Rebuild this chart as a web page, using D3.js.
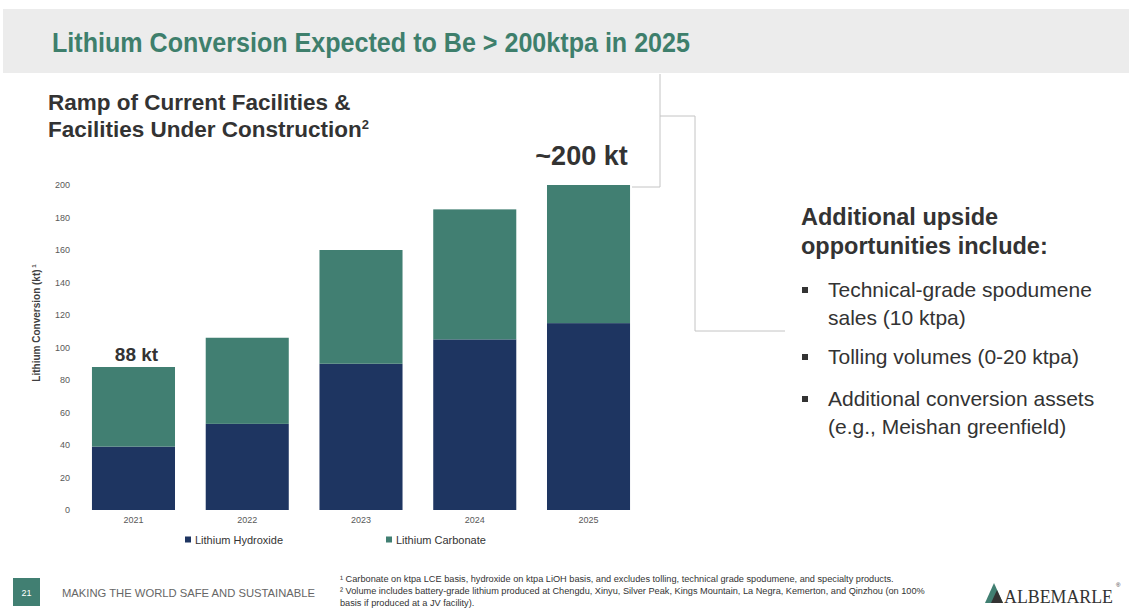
<!DOCTYPE html>
<html>
<head>
<meta charset="utf-8">
<script src="https://cdn.jsdelivr.net/npm/d3@7"></script>
<style>
  body { margin: 0; background: #fff; }
  svg { display: block; font-family: "Liberation Sans", Arial, sans-serif; }
  .tick text { fill: #595959; font-size: 9px; }
  .domain, .tick line { display: none; }
</style>
</head>
<body>
<div id="chart"></div>
<script>
// chart data
const years = ['2021', '2022', '2023', '2024', '2025'];
const hydroxide = [39, 53, 90, 105, 115];
const carbonate = [49, 53, 70, 80, 85];
const yTicks = [0, 20, 40, 60, 80, 100, 120, 140, 160, 180, 200];
const seriesNames = ['Lithium Hydroxide', 'Lithium Carbonate'];
const seriesColors = ['#1e3561', '#417f72'];
const bullets = [
    ['Technical-grade spodumene', 'sales (10 ktpa)'],
    ['Tolling volumes (0-20 ktpa)'],
    ['Additional conversion assets', '(e.g., Meishan greenfield)']
];

const W = 1129, H = 608;
const svg = d3.select('#chart').append('svg')
    .attr('width', W)
    .attr('height', H);

// header band
svg.append('rect')
    .attr('x', 3).attr('y', 9)
    .attr('width', W - 3).attr('height', 64)
    .attr('fill', '#ececec');

svg.append('text')
    .attr('x', 52).attr('y', 52)
    .attr('fill', '#3e7f6c')
    .attr('font-family', '"Liberation Sans Narrow", "Liberation Sans", Arial, sans-serif')
    .attr('font-weight', 'bold')
    .attr('font-size', 27)
    .attr('textLength', 638)
    .attr('lengthAdjust', 'spacingAndGlyphs')
    .text('Lithium Conversion Expected to Be > 200ktpa in 2025');

// subtitle
const sub = svg.append('text')
    .attr('fill', '#333')
    .attr('font-weight', 'bold')
    .attr('font-size', 22.5);
sub.append('tspan').attr('x', 48).attr('y', 110).text('Ramp of Current Facilities &');
sub.append('tspan').attr('x', 48).attr('y', 137).text('Facilities Under Construction');
sub.append('tspan').attr('dy', -8).attr('font-size', 13).text('2');

// scales
const xScale = d3.scaleBand()
    .domain(years)
    .range([76.6, 645.4])
    .paddingInner(0.27)
    .paddingOuter(0.135);

const yScale = d3.scaleLinear()
    .domain([0, 200])
    .range([510, 185]);

const stackData = years.map((y, i) => ({ year: y, hydroxide: hydroxide[i], carbonate: carbonate[i] }));
const stack = d3.stack().keys(['hydroxide', 'carbonate'])(stackData);

svg.append('g')
    .selectAll('g')
    .data(stack)
    .join('g')
    .attr('fill', (d, i) => seriesColors[i])
    .selectAll('rect')
    .data(d => d)
    .join('rect')
    .attr('x', d => xScale(d.data.year))
    .attr('y', d => yScale(d[1]))
    .attr('width', xScale.bandwidth())
    .attr('height', d => yScale(d[0]) - yScale(d[1]));

// axes
svg.append('g')
    .attr('transform', 'translate(70,0)')
    .call(d3.axisLeft(yScale).tickValues(yTicks).tickSize(0).tickPadding(0));

svg.append('g')
    .attr('transform', 'translate(0,515)')
    .call(d3.axisBottom(xScale).tickSize(0).tickPadding(2));

// y title
const yt = svg.append('text')
    .attr('transform', 'translate(40,323) rotate(-90)')
    .attr('text-anchor', 'middle')
    .attr('fill', '#404040')
    .attr('font-weight', 'bold')
    .attr('font-size', 10);
yt.append('tspan').text('Lithium Conversion (kt)');
yt.append('tspan').attr('dy', -4).attr('font-size', 6).text(' 1');

// total labels
const totals = years.map((y, i) => hydroxide[i] + carbonate[i]);
svg.append('text')
    .attr('x', xScale('2021') + xScale.bandwidth() / 2 + 3)
    .attr('y', yScale(totals[0]) - 6)
    .attr('text-anchor', 'middle')
    .attr('fill', '#333')
    .attr('font-weight', 'bold')
    .attr('font-size', 19)
    .text('88 kt');

svg.append('text')
    .attr('x', xScale('2025') + xScale.bandwidth() / 2 - 7)
    .attr('y', yScale(totals[4]) - 20)
    .attr('text-anchor', 'middle')
    .attr('fill', '#333')
    .attr('font-weight', 'bold')
    .attr('font-size', 27)
    .text('~200 kt');

// legend
const legendX = [185, 386];
const legend = svg.append('g')
    .selectAll('g')
    .data(seriesNames)
    .join('g')
    .attr('transform', (d, i) => `translate(${legendX[i]},540)`);
legend.append('rect')
    .attr('x', 0).attr('y', -3.5)
    .attr('width', 6).attr('height', 6)
    .attr('fill', (d, i) => seriesColors[i]);
legend.append('text')
    .attr('x', 10).attr('y', 4)
    .attr('fill', '#333')
    .attr('font-size', 11)
    .text(d => d);

// bracket lines
const lines = [
    [660, 74, 660, 187], [632, 187, 660, 187],
    [660, 116, 695, 116], [695, 116, 695, 331], [695, 331, 785, 331]
];
svg.append('g')
    .selectAll('line')
    .data(lines)
    .join('line')
    .attr('x1', d => d[0]).attr('y1', d => d[1])
    .attr('x2', d => d[2]).attr('y2', d => d[3])
    .attr('stroke', '#c4c4c4')
    .attr('stroke-width', 1);

// right side text
const rt = svg.append('text')
    .attr('fill', '#333')
    .attr('font-weight', 'bold')
    .attr('font-size', 23.5);
rt.append('tspan').attr('x', 801).attr('y', 225).text('Additional upside');
rt.append('tspan').attr('x', 801).attr('y', 254).text('opportunities include:');

const bulletY = [297, 364, 406];
bullets.forEach((b, i) => {
    svg.append('rect')
        .attr('x', 802).attr('y', bulletY[i] - 10)
        .attr('width', 6).attr('height', 6)
        .attr('fill', '#333');
    const t = svg.append('text')
        .attr('fill', '#333')
        .attr('font-size', 21);
    b.forEach((line, j) => {
        t.append('tspan').attr('x', 828).attr('y', bulletY[i] + j * 28).text(line);
    });
});

// footer
svg.append('rect')
    .attr('x', 13).attr('y', 578)
    .attr('width', 27).attr('height', 28)
    .attr('fill', '#417f72');
svg.append('text')
    .attr('x', 26.5).attr('y', 596)
    .attr('text-anchor', 'middle')
    .attr('fill', '#fff')
    .attr('font-size', 9)
    .text('21');
svg.append('text')
    .attr('x', 62).attr('y', 597)
    .attr('fill', '#666')
    .attr('font-size', 11)
    .attr('textLength', 253)
    .attr('lengthAdjust', 'spacingAndGlyphs')
    .text('MAKING THE WORLD SAFE AND SUSTAINABLE');

const foot = svg.append('text')
    .attr('fill', '#333')
    .attr('font-size', 9.2);
foot.append('tspan').attr('x', 340).attr('y', 582).text('¹ Carbonate on ktpa LCE basis, hydroxide on ktpa LiOH basis, and excludes tolling, technical grade spodumene, and specialty products.');
foot.append('tspan').attr('x', 340).attr('y', 594).text('² Volume includes battery-grade lithium produced at Chengdu, Xinyu, Silver Peak, Kings Mountain, La Negra, Kemerton, and Qinzhou (on 100%');
foot.append('tspan').attr('x', 340).attr('y', 606).text('basis if produced at a JV facility).');

// logo
const logo = svg.append('g').attr('transform', 'translate(985,603)');
logo.append('path').attr('d', 'M0,0 L9,-20 L18,0 Z').attr('fill', '#417f72');
logo.append('path').attr('d', 'M6,0 L12,-13 L18,0 Z').attr('fill', '#333');
svg.append('text')
    .attr('x', 1004).attr('y', 603)
    .attr('fill', '#333')
    .attr('font-family', '"Liberation Serif", "DejaVu Serif", serif')
    .attr('font-size', 19)
    .attr('textLength', 109)
    .attr('lengthAdjust', 'spacingAndGlyphs')
    .text('ALBEMARLE');
svg.append('text')
    .attr('x', 1116).attr('y', 587)
    .attr('fill', '#333')
    .attr('font-size', 6)
    .text('®');
</script>
</body>
</html>
